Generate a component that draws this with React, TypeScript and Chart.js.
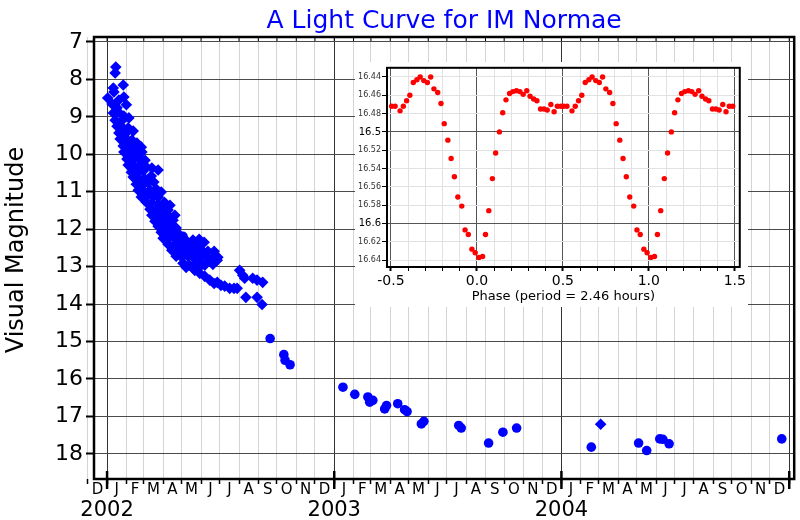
import React, { useEffect, useRef } from 'react';
import { Chart, registerables } from 'chart.js';

Chart.register(...registerables);

const FONT = "'DejaVu Sans', 'Liberation Sans', sans-serif";

const TITLE = 'A Light Curve for IM Normae';
const Y_LABEL = 'Visual Magnitude';
const INSET_X_LABEL = 'Phase (period = 2.46 hours)';

// Main light curve. x = days since 2002-01-01, y = visual magnitude.
// Visual estimates (diamonds)
const visualDays = [
  14, 13, 10, 26, 1, 11, 27, 16, 31, 8, 19, 10, 18, 27, 35, 13, 23, 16, 24, 34,
  42, 19, 29, 21, 31, 40, 48, 26, 35, 45, 55, 27, 37, 47, 56, 32, 42, 51, 61, 34,
  43, 53, 63, 72, 82, 39, 48, 58, 42, 51, 61, 71, 47, 56, 66, 75, 50, 59, 69, 79,
  87, 55, 64, 74, 82, 63, 72, 82, 92, 101, 69, 79, 88, 98, 72, 82, 92, 101, 109, 77,
  87, 96, 106, 82, 92, 101, 111, 87, 96, 106, 114, 90, 100, 109, 119, 128, 138, 148, 156, 98,
  108, 117, 127, 136, 146, 104, 114, 124, 133, 143, 152, 162, 172, 111, 120, 130, 140, 149, 159, 169,
  178, 122, 132, 141, 151, 160, 170, 177, 127, 138, 148, 157, 141, 149, 157, 165, 172, 177, 183, 189,
  197, 204, 209, 213, 218, 221, 223, 234, 241, 250, 241, 249, 793,
];
const visualMags = [
  7.67, 7.83, 8.23, 8.15, 8.5, 8.34, 8.47, 8.76, 8.68, 8.66, 8.55, 8.9, 8.87, 8.98, 9.03, 9.09, 9.11, 9.25, 9.27, 9.3,
  9.38, 9.43, 9.46, 9.59, 9.59, 9.62, 9.7, 9.78, 9.81, 9.83, 9.81, 9.94, 9.97, 10.02, 9.94, 10.13, 10.16, 10.1, 10.16, 10.29,
  10.32, 10.29, 10.34, 10.37, 10.42, 10.48, 10.48, 10.45, 10.61, 10.64, 10.66, 10.58, 10.8, 10.82, 10.77, 10.74, 10.96, 10.98, 10.96, 10.93,
  11.01, 11.14, 11.12, 11.14, 11.14, 11.28, 11.3, 11.33, 11.28, 11.36, 11.47, 11.49, 11.44, 11.49, 11.63, 11.65, 11.6, 11.68, 11.63, 11.79,
  11.79, 11.81, 11.76, 11.92, 11.95, 11.92, 11.97, 12.08, 12.11, 12.05, 12.11, 12.24, 12.21, 12.27, 12.32, 12.32, 12.29, 12.27, 12.35, 12.4,
  12.43, 12.45, 12.4, 12.45, 12.43, 12.56, 12.59, 12.56, 12.61, 12.59, 12.56, 12.59, 12.59, 12.72, 12.75, 12.72, 12.78, 12.75, 12.72, 12.78,
  12.75, 12.91, 12.96, 12.94, 12.91, 12.88, 12.94, 12.83, 13.02, 13.04, 13.02, 12.96, 13.1, 13.18, 13.26, 13.36, 13.45, 13.42, 13.5, 13.52,
  13.58, 13.58, 13.58, 13.1, 13.23, 13.31, 13.82, 13.31, 13.36, 13.42, 13.82, 14.01, 17.21,
];
// CCD / photometric measurements (circles)
const ccdDays = [
  122, 262, 284, 286, 294, 379, 398, 419, 422, 427, 446, 449, 467, 478, 482, 505, 509, 565, 569, 613,
  636, 658, 778, 854, 867, 888, 893, 903, 1084,
];
const ccdMags = [
  12.19, 14.92, 15.35, 15.5, 15.62, 16.22, 16.41, 16.48, 16.62, 16.57, 16.8, 16.71, 16.66, 16.82, 16.87, 17.2, 17.13, 17.24, 17.31, 17.71,
  17.42, 17.31, 17.82, 17.71, 17.91, 17.6, 17.61, 17.73, 17.6,
];

const magTicks = [7, 8, 9, 10, 11, 12, 13, 14, 15, 16, 17, 18];
const monthLetters = ['J', 'F', 'M', 'A', 'M', 'J', 'J', 'A', 'S', 'O', 'N', 'D'];
const yearLabels = [2002, 2003, 2004];

// Inset: phase-folded light curve (one cycle, plotted twice)
const phaseValues = [
  -0.496, -0.476, -0.447, -0.428, -0.409, -0.39, -0.37, -0.349, -0.33, -0.309,
  -0.288, -0.269, -0.25, -0.228, -0.209, -0.19, -0.169, -0.15, -0.131, -0.111,
  -0.088, -0.069, -0.05, -0.029, -0.01, 0.012, 0.033, 0.05, 0.069, 0.09,
  0.109, 0.131, 0.15, 0.169, 0.19, 0.209, 0.23, 0.25, 0.269, 0.29,
  0.309, 0.33, 0.349, 0.37, 0.39, 0.409, 0.43, 0.449, 0.468, 0.488,
];
const phaseMags = [
  16.472, 16.472, 16.477, 16.472, 16.466, 16.46, 16.446, 16.443, 16.44, 16.444,
  16.446, 16.44, 16.453, 16.457, 16.469, 16.491, 16.509, 16.529, 16.549, 16.571,
  16.581, 16.607, 16.612, 16.628, 16.632, 16.637, 16.636, 16.612, 16.586, 16.551,
  16.523, 16.5, 16.479, 16.465, 16.458, 16.456, 16.455, 16.456, 16.459, 16.455,
  16.461, 16.464, 16.466, 16.475, 16.475, 16.476, 16.47, 16.478, 16.472, 16.472,
];
const phaseTicks = [
  -0.5, -0.4, -0.3, -0.2, -0.1, 0, 0.1, 0.2, 0.3, 0.4, 0.5, 0.6, 0.7, 0.8, 0.9, 1.0, 1.1, 1.2, 1.3, 1.4, 1.5,
];
const phaseMajorTicks = [-0.5, 0, 0.5, 1.0, 1.5];
const insetMagTicks = [16.44, 16.46, 16.48, 16.5, 16.52, 16.54, 16.56, 16.58, 16.6, 16.62, 16.64];
const insetMajorMagTicks = [16.5, 16.6];

const DAY_MS = 86400000;
const EPOCH = Date.UTC(2002, 0, 1);
const dayOf = (y: number, m: number) => (Date.UTC(y, m, 1) - EPOCH) / DAY_MS;

const monthStarts: { day: number; month: number; year: number }[] = [];
for (let y = 2001; y <= 2005; y++) {
  for (let m = 0; m < 12; m++) {
    if (y === 2001 && m < 11) continue;
    if (y === 2005 && m > 0) continue;
    monthStarts.push({ day: dayOf(y, m), month: m, year: y });
  }
}
const yearStartDays = yearLabels.map((y) => dayOf(y, 0));
const isYearStart = (v: number) => monthStarts.some((s) => s.day === v && s.month === 0);

const mainDecor = {
  id: 'mainDecor',
  afterDraw(chart: any) {
    const { ctx, chartArea: a, scales } = chart;
    const x = scales.x;
    ctx.save();
    // frame
    ctx.strokeStyle = '#000';
    ctx.lineWidth = 2.5;
    ctx.strokeRect(a.left, a.top, a.right - a.left, a.bottom - a.top);
    // inward month ticks on top
    ctx.lineWidth = 1;
    monthStarts.forEach((s) => {
      const px = x.getPixelForValue(s.day);
      if (px <= a.left + 2 || px >= a.right - 2) return;
      ctx.beginPath();
      ctx.moveTo(px, a.top);
      ctx.lineTo(px, a.top + 4);
      ctx.stroke();
    });
    // long year ticks
    ctx.lineWidth = 2.5;
    [...yearStartDays, dayOf(2005, 0)].forEach((d) => {
      const px = x.getPixelForValue(d);
      ctx.beginPath();
      ctx.moveTo(px, a.bottom - 8);
      ctx.lineTo(px, a.bottom + 10);
      ctx.stroke();
    });
    // month letters
    ctx.fillStyle = '#000';
    ctx.font = `15px ${FONT}`;
    ctx.textAlign = 'center';
    ctx.textBaseline = 'alphabetic';
    for (let i = 0; i < monthStarts.length - 1; i++) {
      const mid = (monthStarts[i].day + monthStarts[i + 1].day) / 2;
      ctx.fillText(monthLetters[monthStarts[i].month], x.getPixelForValue(mid), a.bottom + 15);
    }
    // year labels
    ctx.font = `21px ${FONT}`;
    yearLabels.forEach((lab, i) => {
      ctx.fillText(String(lab), x.getPixelForValue(yearStartDays[i]), 516);
    });
    // title
    ctx.font = `25px ${FONT}`;
    ctx.fillStyle = '#0000ff';
    ctx.fillText(TITLE, (a.left + a.right) / 2, 28);
    // y label
    ctx.translate(17, 250);
    ctx.rotate(-Math.PI / 2);
    ctx.font = `24px ${FONT}`;
    ctx.fillStyle = '#000';
    ctx.textBaseline = 'middle';
    ctx.fillText(Y_LABEL, 0, 0);
    ctx.restore();
  },
};

const insetDecor = {
  id: 'insetDecor',
  afterDraw(chart: any) {
    const { ctx, chartArea: a } = chart;
    ctx.save();
    ctx.strokeStyle = '#000';
    ctx.lineWidth = 2;
    ctx.strokeRect(a.left, a.top, a.right - a.left, a.bottom - a.top);
    ctx.restore();
  },
};

const near = (v: number, list: number[]) => list.some((t) => Math.abs(t - v) < 1e-6);

export default function App() {
  const mainRef = useRef<HTMLCanvasElement>(null);
  const insetRef = useRef<HTMLCanvasElement>(null);

  useEffect(() => {
    document.body.style.margin = '0';
    const main = new Chart(mainRef.current as HTMLCanvasElement, {
      type: 'scatter',
      data: {
        datasets: [
          {
            label: 'Visual',
            data: visualDays.map((d, i) => ({ x: d, y: visualMags[i] })),
            pointStyle: 'rectRot',
            pointRadius: 5.8,
            backgroundColor: '#0000ff',
            borderColor: '#0000ff',
            borderWidth: 0,
          },
          {
            label: 'CCD',
            data: ccdDays.map((d, i) => ({ x: d, y: ccdMags[i] })),
            pointStyle: 'circle',
            pointRadius: 4.8,
            backgroundColor: '#0000ff',
            borderColor: '#0000ff',
            borderWidth: 0,
          },
        ],
      },
      options: {
        responsive: false,
        animation: false,
        devicePixelRatio: 1,
        layout: { padding: { top: 37, right: 5, left: 0, bottom: 0 } },
        plugins: { legend: { display: false }, tooltip: { enabled: false }, title: { display: false } },
        scales: {
          x: {
            type: 'linear',
            min: -21,
            max: 1104,
            afterBuildTicks: (s: any) => {
              s.ticks = monthStarts.map((m) => ({ value: m.day }));
            },
            afterFit: (s: any) => {
              s.height = 41;
            },
            ticks: { display: false },
            border: { display: false },
            grid: {
              color: (c: any) => (isYearStart(c.tick?.value) ? '#333333' : '#d4d4d4'),
              lineWidth: 1,
              tickColor: '#000',
              tickLength: 5,
              tickWidth: 1.5,
            },
          },
          y: {
            type: 'linear',
            reverse: true,
            min: 6.87,
            max: 18.67,
            afterBuildTicks: (s: any) => {
              s.ticks = magTicks.map((v) => ({ value: v }));
            },
            afterFit: (s: any) => {
              s.width = 94;
            },
            ticks: { color: '#000', font: { family: FONT, size: 22 }, padding: 3 },
            border: { display: false },
            grid: { color: '#4a4a4a', lineWidth: 1, tickColor: '#000', tickLength: 8, tickWidth: 2 },
          },
        },
      },
      plugins: [mainDecor],
    } as any);

    const insetData: { x: number; y: number }[] = [];
    [0, 1].forEach((cycle) => {
      phaseValues.forEach((p, i) => insetData.push({ x: p + cycle, y: phaseMags[i] }));
    });

    const inset = new Chart(insetRef.current as HTMLCanvasElement, {
      type: 'scatter',
      data: {
        datasets: [
          {
            label: 'Phase',
            data: insetData,
            pointStyle: 'circle',
            pointRadius: 2.7,
            backgroundColor: '#ff0000',
            borderColor: '#ff0000',
            borderWidth: 0,
          },
        ],
      },
      options: {
        responsive: false,
        animation: false,
        devicePixelRatio: 1,
        layout: { padding: { top: 2, right: 5, left: 0, bottom: 0 } },
        plugins: { legend: { display: false }, tooltip: { enabled: false } },
        scales: {
          x: {
            type: 'linear',
            min: -0.523,
            max: 1.529,
            afterBuildTicks: (s: any) => {
              s.ticks = phaseTicks.map((v) => ({ value: v }));
            },
            afterFit: (s: any) => {
              s.height = 40;
            },
            ticks: {
              autoSkip: false,
              maxRotation: 0,
              color: '#000',
              padding: 2,
              font: { family: FONT, size: 14 },
              callback: (v: any) => (near(Number(v), phaseMajorTicks) ? Number(v).toFixed(1) : ''),
            },
            title: {
              display: true,
              text: INSET_X_LABEL,
              color: '#000',
              font: { family: FONT, size: 13 },
              padding: { top: 0, bottom: 3 },
            },
            border: { display: false },
            grid: {
              color: (c: any) => (near(c.tick?.value, phaseMajorTicks) ? '#555555' : '#e2e2e2'),
              lineWidth: 1,
              tickColor: '#000',
              tickLength: 4,
              tickWidth: (c: any) => (near(c.tick?.value, phaseMajorTicks) ? 2 : 1),
            },
          },
          y: {
            type: 'linear',
            reverse: true,
            min: 16.43,
            max: 16.6475,
            afterBuildTicks: (s: any) => {
              s.ticks = insetMagTicks.map((v) => ({ value: v }));
            },
            afterFit: (s: any) => {
              s.width = 32;
            },
            ticks: {
              autoSkip: false,
              padding: 1,
              color: (c: any) => (near(c.tick?.value, insetMajorMagTicks) ? '#000' : '#333'),
              font: (c: any) => ({ family: FONT, size: near(c.tick?.value, insetMajorMagTicks) ? 10 : 8 }),
              callback: (v: any) => String(Math.round(Number(v) * 100) / 100),
            },
            border: { display: false },
            grid: {
              color: (c: any) => (near(c.tick?.value, insetMajorMagTicks) ? '#555555' : '#e2e2e2'),
              lineWidth: 1,
              tickColor: '#000',
              tickLength: 5,
              tickWidth: 1,
            },
          },
        },
      },
      plugins: [insetDecor],
    } as any);

    return () => {
      main.destroy();
      inset.destroy();
    };
  }, []);

  return (
    <div style={{ position: 'relative', width: 800, height: 520, background: '#fff' }}>
      <canvas ref={mainRef} width={800} height={520} style={{ display: 'block', width: 800, height: 520 }} />
      <canvas
        ref={insetRef}
        width={393}
        height={245}
        style={{ position: 'absolute', left: 355, top: 62, width: 393, height: 245, background: '#fff', display: 'block' }}
      />
    </div>
  );
}
